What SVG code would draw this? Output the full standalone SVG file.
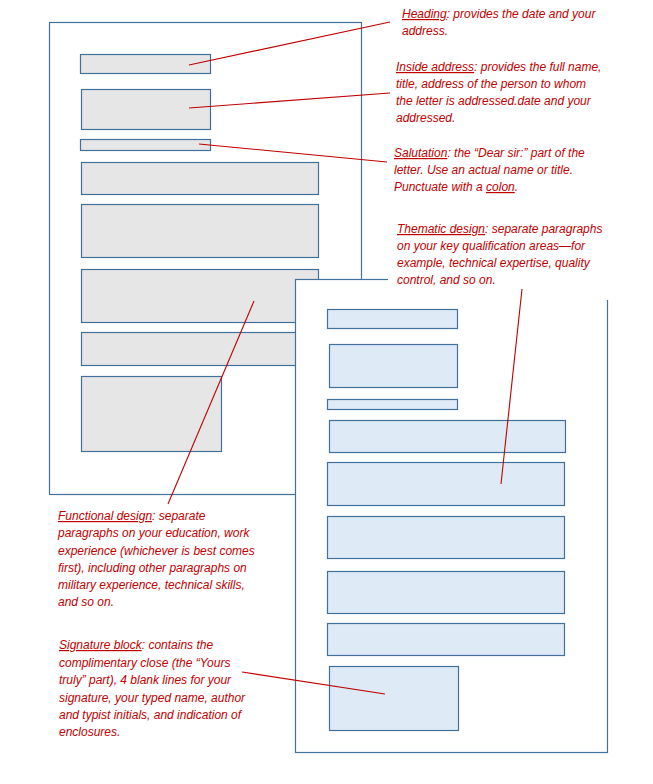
<svg xmlns="http://www.w3.org/2000/svg" width="653" height="784" viewBox="0 0 653 784">
<style>
.page{fill:#ffffff;stroke:#41719c;stroke-width:1.2}
.g{fill:#e6e6e6;stroke:#41719c;stroke-width:1.2}
.b{fill:#deeaf6;stroke:#41719c;stroke-width:1.2}
.t{font-family:"Liberation Sans",Arial,sans-serif;font-style:italic;font-size:12px;fill:#c00000}
.u{text-decoration:underline}
.c{stroke:#c00000;stroke-width:1.1;fill:none}
</style>
<rect width="653" height="784" fill="#ffffff"/>
<g id="page1">
<rect class="page" x="49.5" y="22.5" width="312" height="472"/>
<rect class="g" x="80.5" y="54.5" width="130" height="19"/>
<rect class="g" x="81.5" y="89.5" width="129" height="40"/>
<rect class="g" x="80.5" y="139.5" width="130" height="11"/>
<rect class="g" x="81.5" y="162.5" width="237" height="32"/>
<rect class="g" x="81.5" y="204.5" width="237" height="53"/>
<rect class="g" x="81.5" y="269.5" width="237" height="53"/>
<rect class="g" x="81.5" y="332.5" width="237" height="33"/>
<rect class="g" x="81.5" y="376.5" width="140" height="75"/>
</g>
<g id="page2">
<rect class="page" x="295.5" y="279.5" width="312" height="473"/>
<rect class="b" x="327.5" y="309.5" width="130" height="19"/>
<rect class="b" x="329.5" y="344.5" width="128" height="43"/>
<rect class="b" x="327.5" y="399.5" width="130" height="10"/>
<rect class="b" x="329.5" y="420.5" width="236" height="32"/>
<rect class="b" x="327.5" y="462.5" width="237" height="43"/>
<rect class="b" x="327.5" y="516.5" width="237" height="42"/>
<rect class="b" x="327.5" y="571.5" width="237" height="42"/>
<rect class="b" x="327.5" y="623.5" width="237" height="32"/>
<rect class="b" x="329.5" y="666.5" width="129" height="64"/>
</g>
<g id="heading">
<text class="t" x="402" y="18"><tspan class="u">Heading</tspan>: provides the date and your</text>
<text class="t" x="402" y="35">address.</text>
</g>
<g id="inside-address">
<text class="t" x="396" y="71"><tspan class="u">Inside address</tspan>: provides the full name,</text>
<text class="t" x="396" y="88">title, address of the person to whom</text>
<text class="t" x="396" y="105">the letter is addressed.date and your</text>
<text class="t" x="396" y="122">addressed.</text>
</g>
<g id="salutation">
<text class="t" x="394" y="157"><tspan class="u">Salutation</tspan>: the “Dear sir:” part of the</text>
<text class="t" x="394" y="174">letter. Use an actual name or title.</text>
<text class="t" x="394" y="191">Punctuate with a <tspan class="u">colon</tspan>.</text>
</g>
<g id="thematic">
<rect x="388" y="218" width="224" height="82" fill="#ffffff"/>
<text class="t" x="397" y="233"><tspan class="u">Thematic design</tspan>: separate paragraphs</text>
<text class="t" x="397" y="250">on your key qualification areas—for</text>
<text class="t" x="397" y="267">example, technical expertise, quality</text>
<text class="t" x="397" y="284">control, and so on.</text>
</g>
<g id="functional">
<text class="t" x="58" y="520"><tspan class="u">Functional design</tspan>: separate</text>
<text class="t" x="58" y="537">paragraphs on your education, work</text>
<text class="t" x="58" y="554.5">experience (whichever is best comes</text>
<text class="t" x="58" y="572">first), including other paragraphs on</text>
<text class="t" x="58" y="589">military experience, technical skills,</text>
<text class="t" x="58" y="606">and so on.</text>
</g>
<g id="signature">
<text class="t" x="59" y="649"><tspan class="u">Signature block</tspan>: contains the</text>
<text class="t" x="59" y="666.5">complimentary close (the “Yours</text>
<text class="t" x="59" y="684">truly” part), 4 blank lines for your</text>
<text class="t" x="59" y="701.5">signature, your typed name, author</text>
<text class="t" x="59" y="719">and typist initials, and indication of</text>
<text class="t" x="59" y="735.5">enclosures.</text>
</g>
<g id="connectors">
<line class="c" x1="189" y1="65" x2="390" y2="22"/>
<line class="c" x1="189" y1="108" x2="390" y2="93"/>
<line class="c" x1="199" y1="144" x2="387" y2="162"/>
<line class="c" x1="522" y1="289" x2="501" y2="484"/>
<line class="c" x1="254" y1="301" x2="168" y2="504"/>
<line class="c" x1="242" y1="672" x2="385" y2="694"/>
</g>
</svg>
